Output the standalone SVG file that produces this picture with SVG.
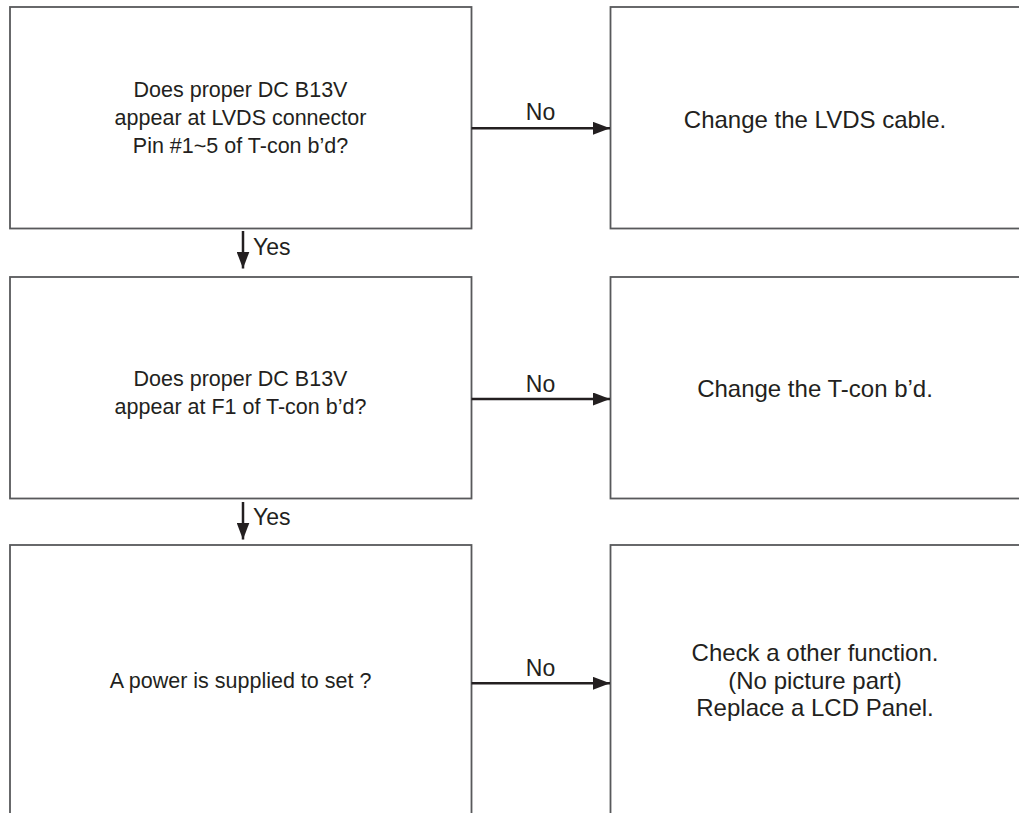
<svg xmlns="http://www.w3.org/2000/svg" width="1019" height="813" viewBox="0 0 1019 813">
<style>
.box{fill:#fff;stroke:#58595b;stroke-width:1.8}
.t{font-family:"Liberation Sans",Arial,sans-serif;fill:#231f20;text-anchor:middle}
.l{font-size:21.5px}
.r{font-size:24px}
.lbl{font-family:"Liberation Sans",Arial,sans-serif;fill:#231f20;font-size:23px}
.c{stroke:#231f20;stroke-width:2.5;fill:none}
</style>
<defs>
<marker id="ah" viewBox="0 0 17 13" refX="17" refY="6.5" markerWidth="17" markerHeight="13" markerUnits="userSpaceOnUse" orient="auto">
<path d="M0,0 L17,6.5 L0,13 z" fill="#231f20"/>
</marker>
</defs>
<rect width="1019" height="813" fill="#fff"/>
<g id="n1"><rect class="box" x="10" y="7" width="461.5" height="221.5"/>
<text class="t l" x="240.5" y="97">Does proper DC B13V</text>
<text class="t l" x="240.5" y="125">appear at LVDS connector</text>
<text class="t l" x="240.5" y="153">Pin #1~5 of T-con b’d?</text></g>
<g id="n2"><rect class="box" x="610.5" y="7" width="430" height="221.5"/>
<text class="t r" x="815" y="127.5">Change the LVDS cable.</text></g>
<g id="n3"><rect class="box" x="10" y="277" width="461.5" height="221.5"/>
<text class="t l" x="240.5" y="386">Does proper DC B13V</text>
<text class="t l" x="240.5" y="414">appear at F1 of T-con b’d?</text></g>
<g id="n4"><rect class="box" x="610.5" y="277" width="430" height="221.5"/>
<text class="t r" x="815" y="397">Change the T-con b’d.</text></g>
<g id="n5"><rect class="box" x="10" y="545" width="461.5" height="290"/>
<text class="t l" x="240.5" y="688">A power is supplied to set ?</text></g>
<g id="n6"><rect class="box" x="610.5" y="545" width="430" height="290"/>
<text class="t r" x="815" y="661">Check a other function.</text>
<text class="t r" x="815" y="688.5">(No picture part)</text>
<text class="t r" x="815" y="716">Replace a LCD Panel.</text></g>
<g id="connectors">
<line class="c" x1="471.5" y1="128.3" x2="610" y2="128.3" marker-end="url(#ah)"/>
<line class="c" x1="471.5" y1="399" x2="610" y2="399" marker-end="url(#ah)"/>
<line class="c" x1="471.5" y1="683.3" x2="610" y2="683.3" marker-end="url(#ah)"/>
<line class="c" x1="243" y1="231" x2="243" y2="268.5" marker-end="url(#ah)"/>
<line class="c" x1="243" y1="502" x2="243" y2="539.5" marker-end="url(#ah)"/>
<text class="lbl" x="540.5" y="120" text-anchor="middle">No</text>
<text class="lbl" x="540.5" y="391.5" text-anchor="middle">No</text>
<text class="lbl" x="540.5" y="676" text-anchor="middle">No</text>
<text class="lbl" x="253" y="255">Yes</text>
<text class="lbl" x="253" y="525">Yes</text>
</g>
</svg>
